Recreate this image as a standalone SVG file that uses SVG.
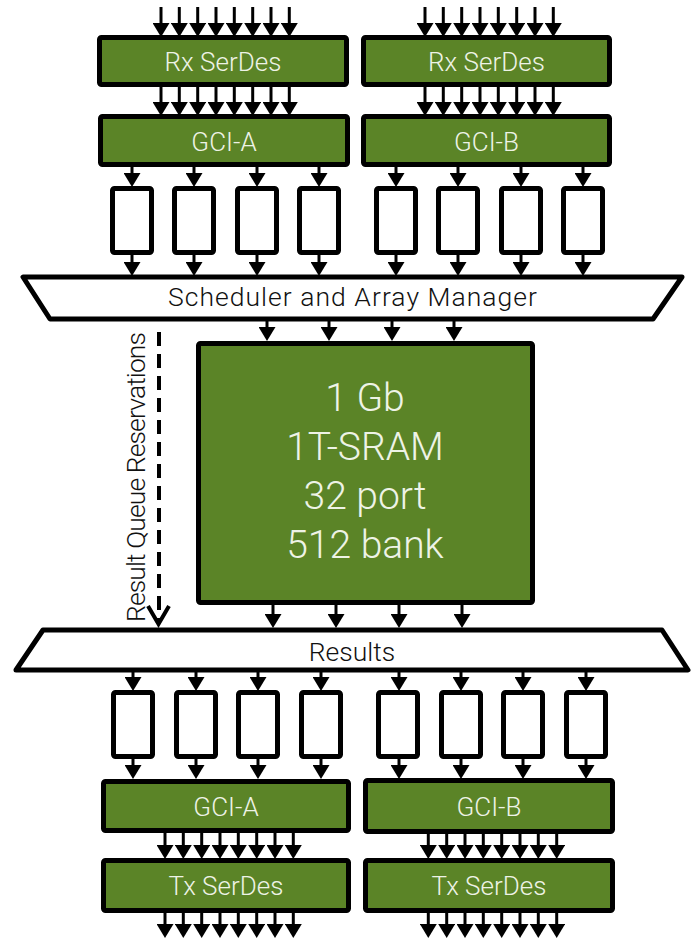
<svg xmlns="http://www.w3.org/2000/svg" width="698" height="938" viewBox="0 0 698 938">
<style>
.blk{fill:#5b8427;stroke:#000;stroke-width:5}
.q{fill:#fff;stroke:#000;stroke-width:5}
.tr{fill:#fff;stroke:#000;stroke-width:5;stroke-linejoin:round}
.lbl{font-family:Roboto,"Open Sans","Liberation Sans",sans-serif;font-weight:300;font-size:26px;fill:#eef3e6;text-anchor:middle}
.big{font-family:Roboto,"Open Sans","Liberation Sans",sans-serif;font-weight:300;font-size:39px;fill:#eef3e6;text-anchor:middle}
.blt{font-family:Roboto,"Open Sans","Liberation Sans",sans-serif;font-weight:300;font-size:26.5px;fill:#111;text-anchor:middle}
.a{stroke:#000;stroke-width:3;marker-end:url(#ah)}
.d{stroke:#000;stroke-width:4;stroke-dasharray:14 8;fill:none}
</style>
<defs>
<marker id="ah" markerUnits="userSpaceOnUse" viewBox="0 0 14 17" refX="3" refY="8.5" markerWidth="14" markerHeight="17" orient="auto">
<path d="M0,0 L14,8.5 L0,17 z" fill="#000"/>
</marker>
</defs>

<g id="connectors">
<line class="a" x1="161" y1="7" x2="161" y2="26"/><line class="a" x1="179.3" y1="7" x2="179.3" y2="26"/><line class="a" x1="197.7" y1="7" x2="197.7" y2="26"/><line class="a" x1="216" y1="7" x2="216" y2="26"/><line class="a" x1="234.3" y1="7" x2="234.3" y2="26"/><line class="a" x1="252.7" y1="7" x2="252.7" y2="26"/><line class="a" x1="271" y1="7" x2="271" y2="26"/><line class="a" x1="289.3" y1="7" x2="289.3" y2="26"/>
<line class="a" x1="425" y1="7" x2="425" y2="26"/><line class="a" x1="443.3" y1="7" x2="443.3" y2="26"/><line class="a" x1="461.7" y1="7" x2="461.7" y2="26"/><line class="a" x1="480" y1="7" x2="480" y2="26"/><line class="a" x1="498.3" y1="7" x2="498.3" y2="26"/><line class="a" x1="516.7" y1="7" x2="516.7" y2="26"/><line class="a" x1="535" y1="7" x2="535" y2="26"/><line class="a" x1="553.3" y1="7" x2="553.3" y2="26"/>
<line class="a" x1="161" y1="85" x2="161" y2="105"/><line class="a" x1="179.3" y1="85" x2="179.3" y2="105"/><line class="a" x1="197.7" y1="85" x2="197.7" y2="105"/><line class="a" x1="216" y1="85" x2="216" y2="105"/><line class="a" x1="234.3" y1="85" x2="234.3" y2="105"/><line class="a" x1="252.7" y1="85" x2="252.7" y2="105"/><line class="a" x1="271" y1="85" x2="271" y2="105"/><line class="a" x1="289.3" y1="85" x2="289.3" y2="105"/>
<line class="a" x1="425" y1="85" x2="425" y2="105"/><line class="a" x1="443.3" y1="85" x2="443.3" y2="105"/><line class="a" x1="461.7" y1="85" x2="461.7" y2="105"/><line class="a" x1="480" y1="85" x2="480" y2="105"/><line class="a" x1="498.3" y1="85" x2="498.3" y2="105"/><line class="a" x1="516.7" y1="85" x2="516.7" y2="105"/><line class="a" x1="535" y1="85" x2="535" y2="105"/><line class="a" x1="553.3" y1="85" x2="553.3" y2="105"/>
<line class="a" x1="132" y1="165" x2="132" y2="176"/><line class="a" x1="194" y1="165" x2="194" y2="176"/><line class="a" x1="257" y1="165" x2="257" y2="176"/><line class="a" x1="319" y1="165" x2="319" y2="176"/>
<line class="a" x1="396" y1="165" x2="396" y2="176"/><line class="a" x1="458" y1="165" x2="458" y2="176"/><line class="a" x1="521" y1="165" x2="521" y2="176"/><line class="a" x1="583" y1="165" x2="583" y2="176"/>
<line class="a" x1="132" y1="253" x2="132" y2="265"/><line class="a" x1="194" y1="253" x2="194" y2="265"/><line class="a" x1="257" y1="253" x2="257" y2="265"/><line class="a" x1="319" y1="253" x2="319" y2="265"/>
<line class="a" x1="396" y1="253" x2="396" y2="265"/><line class="a" x1="458" y1="253" x2="458" y2="265"/><line class="a" x1="521" y1="253" x2="521" y2="265"/><line class="a" x1="583" y1="253" x2="583" y2="265"/>
<line class="a" x1="267" y1="319" x2="267" y2="330"/><line class="a" x1="329" y1="319" x2="329" y2="330"/><line class="a" x1="392" y1="319" x2="392" y2="330"/><line class="a" x1="454" y1="319" x2="454" y2="330"/>
<line class="a" x1="273" y1="603" x2="273" y2="617"/><line class="a" x1="336" y1="603" x2="336" y2="617"/><line class="a" x1="399" y1="603" x2="399" y2="617"/><line class="a" x1="462" y1="603" x2="462" y2="617"/>
<line class="a" x1="133" y1="670" x2="133" y2="680"/><line class="a" x1="196" y1="670" x2="196" y2="680"/><line class="a" x1="258" y1="670" x2="258" y2="680"/><line class="a" x1="321" y1="670" x2="321" y2="680"/>
<line class="a" x1="399" y1="670" x2="399" y2="680"/><line class="a" x1="461" y1="670" x2="461" y2="680"/><line class="a" x1="523" y1="670" x2="523" y2="680"/><line class="a" x1="586" y1="670" x2="586" y2="680"/>
<line class="a" x1="133" y1="757" x2="133" y2="768"/><line class="a" x1="196" y1="757" x2="196" y2="768"/><line class="a" x1="258" y1="757" x2="258" y2="768"/><line class="a" x1="321" y1="757" x2="321" y2="768"/>
<line class="a" x1="399" y1="757" x2="399" y2="768"/><line class="a" x1="461" y1="757" x2="461" y2="768"/><line class="a" x1="523" y1="757" x2="523" y2="768"/><line class="a" x1="586" y1="757" x2="586" y2="768"/>
<line class="a" x1="165" y1="831" x2="165" y2="848"/><line class="a" x1="183.3" y1="831" x2="183.3" y2="848"/><line class="a" x1="201.7" y1="831" x2="201.7" y2="848"/><line class="a" x1="220" y1="831" x2="220" y2="848"/><line class="a" x1="238.3" y1="831" x2="238.3" y2="848"/><line class="a" x1="256.7" y1="831" x2="256.7" y2="848"/><line class="a" x1="275" y1="831" x2="275" y2="848"/><line class="a" x1="293.3" y1="831" x2="293.3" y2="848"/>
<line class="a" x1="428.3" y1="831" x2="428.3" y2="848"/><line class="a" x1="446.7" y1="831" x2="446.7" y2="848"/><line class="a" x1="465" y1="831" x2="465" y2="848"/><line class="a" x1="483.3" y1="831" x2="483.3" y2="848"/><line class="a" x1="501.7" y1="831" x2="501.7" y2="848"/><line class="a" x1="520" y1="831" x2="520" y2="848"/><line class="a" x1="538.3" y1="831" x2="538.3" y2="848"/><line class="a" x1="556.7" y1="831" x2="556.7" y2="848"/>
<line class="a" x1="165" y1="911" x2="165" y2="927"/><line class="a" x1="183.3" y1="911" x2="183.3" y2="927"/><line class="a" x1="201.7" y1="911" x2="201.7" y2="927"/><line class="a" x1="220" y1="911" x2="220" y2="927"/><line class="a" x1="238.3" y1="911" x2="238.3" y2="927"/><line class="a" x1="256.7" y1="911" x2="256.7" y2="927"/><line class="a" x1="275" y1="911" x2="275" y2="927"/><line class="a" x1="293.3" y1="911" x2="293.3" y2="927"/>
<line class="a" x1="428.3" y1="911" x2="428.3" y2="927"/><line class="a" x1="446.7" y1="911" x2="446.7" y2="927"/><line class="a" x1="465" y1="911" x2="465" y2="927"/><line class="a" x1="483.3" y1="911" x2="483.3" y2="927"/><line class="a" x1="501.7" y1="911" x2="501.7" y2="927"/><line class="a" x1="520" y1="911" x2="520" y2="927"/><line class="a" x1="538.3" y1="911" x2="538.3" y2="927"/><line class="a" x1="556.7" y1="911" x2="556.7" y2="927"/>
<line class="d" x1="159" y1="332" x2="159" y2="620"/>
<polyline points="148,606 158.5,624 169,606" fill="none" stroke="#000" stroke-width="4"/>
</g>

<g id="rx-serdes-a"><rect class="blk" x="99.5" y="37.5" width="247" height="47" rx="2"/><text class="lbl" x="223" y="71">Rx SerDes</text></g>
<g id="rx-serdes-b"><rect class="blk" x="363.5" y="37.5" width="246" height="47" rx="2"/><text class="lbl" x="486.5" y="71">Rx SerDes</text></g>
<g id="gci-a-in"><rect class="blk" x="100.5" y="116.5" width="247" height="48" rx="2"/><text class="lbl" x="224" y="151">GCI-A</text></g>
<g id="gci-b-in"><rect class="blk" x="363.5" y="116.5" width="246" height="48" rx="2"/><text class="lbl" x="486.5" y="151">GCI-B</text></g>

<g id="q-in-1"><rect class="q" x="112.5" y="188.5" width="39" height="64" rx="2"/></g>
<g id="q-in-2"><rect class="q" x="174.5" y="188.5" width="39" height="64" rx="2"/></g>
<g id="q-in-3"><rect class="q" x="237.5" y="188.5" width="39" height="64" rx="2"/></g>
<g id="q-in-4"><rect class="q" x="299.5" y="188.5" width="39" height="64" rx="2"/></g>
<g id="q-in-5"><rect class="q" x="376.5" y="188.5" width="39" height="64" rx="2"/></g>
<g id="q-in-6"><rect class="q" x="438.5" y="188.5" width="39" height="64" rx="2"/></g>
<g id="q-in-7"><rect class="q" x="501.5" y="188.5" width="39" height="64" rx="2"/></g>
<g id="q-in-8"><rect class="q" x="563.5" y="188.5" width="39" height="64" rx="2"/></g>

<g id="scheduler"><polygon class="tr" points="23,277 682,277 653,319 50,319"/><text class="blt" x="352.5" y="306" textLength="369" lengthAdjust="spacing">Scheduler and Array Manager</text></g>

<g id="memory"><rect class="blk" x="198.5" y="343.5" width="334" height="259" rx="2"/>
<text class="big" x="365" y="411">1 Gb</text>
<text class="big" x="365" y="460">1T-SRAM</text>
<text class="big" x="365" y="509">32 port</text>
<text class="big" x="365" y="558">512 bank</text></g>

<g id="reservations-label"><text class="blt" transform="translate(145,477) rotate(-90)" x="0" y="0" textLength="290" lengthAdjust="spacing">Result Queue Reservations</text></g>

<g id="results"><polygon class="tr" points="43,630 662,630 688,670 16,670"/><text class="blt" x="352" y="661">Results</text></g>

<g id="q-out-1"><rect class="q" x="113.5" y="692.5" width="39" height="64" rx="2"/></g>
<g id="q-out-2"><rect class="q" x="176.5" y="692.5" width="39" height="64" rx="2"/></g>
<g id="q-out-3"><rect class="q" x="238.5" y="692.5" width="39" height="64" rx="2"/></g>
<g id="q-out-4"><rect class="q" x="301.5" y="692.5" width="39" height="64" rx="2"/></g>
<g id="q-out-5"><rect class="q" x="378.5" y="692.5" width="39" height="64" rx="2"/></g>
<g id="q-out-6"><rect class="q" x="441.5" y="692.5" width="39" height="64" rx="2"/></g>
<g id="q-out-7"><rect class="q" x="503.5" y="692.5" width="39" height="64" rx="2"/></g>
<g id="q-out-8"><rect class="q" x="566.5" y="692.5" width="39" height="64" rx="2"/></g>

<g id="gci-a-out"><rect class="blk" x="103.5" y="781.5" width="245" height="49" rx="2"/><text class="lbl" x="226" y="816">GCI-A</text></g>
<g id="gci-b-out"><rect class="blk" x="365.5" y="780.5" width="247" height="51" rx="2"/><text class="lbl" x="489" y="816">GCI-B</text></g>
<g id="tx-serdes-a"><rect class="blk" x="103.5" y="860.5" width="245" height="50" rx="2"/><text class="lbl" x="226" y="895">Tx SerDes</text></g>
<g id="tx-serdes-b"><rect class="blk" x="365.5" y="860.5" width="247" height="50" rx="2"/><text class="lbl" x="489" y="895">Tx SerDes</text></g>
</svg>
